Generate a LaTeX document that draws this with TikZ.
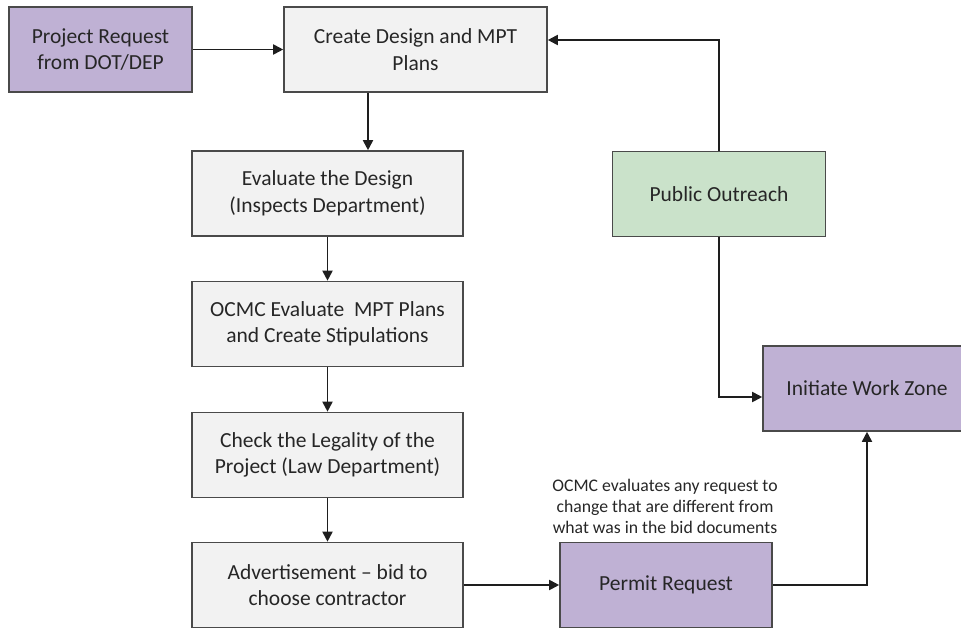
\documentclass[tikz,border=0pt]{standalone}
\usepackage{fontspec}
\setmainfont{Carlito}
\usetikzlibrary{arrows.meta}

\definecolor{boxline}{HTML}{4A4A4A}
\definecolor{greyfill}{HTML}{F2F2F2}
\definecolor{lilac}{HTML}{BFB1D4}
\definecolor{mint}{HTML}{CAE2CA}
\definecolor{ink}{HTML}{262626}
\definecolor{wire}{HTML}{1E1E1E}

\begin{document}
\begin{tikzpicture}[x=1pt,y=-1pt,
  flowbox/.style={draw=boxline, line width=1.6pt, text=ink, align=center,
    font=\fontsize{21.5}{26.5}\selectfont, inner sep=2pt, minimum height=85pt},
  greybox/.style={flowbox, fill=greyfill},
  lilacbox/.style={flowbox, fill=lilac},
  mintbox/.style={flowbox, fill=mint},
  flow/.style={draw=wire, line width=1.8pt, -{Triangle[length=10pt,width=10pt]}},
  remark/.style={text=ink, align=center, font=\fontsize{17.7}{21}\selectfont, inner sep=0pt}
]
\useasboundingbox (0,0) rectangle (961,629);

% process column
\node[lilacbox, minimum width=183pt] (pr) at (100.5,49.5)
  {Project Request\\from DOT/DEP};
\node[greybox, minimum width=263pt] (cd) at (415.5,49.5)
  {Create Design and MPT\\Plans};
\node[greybox, minimum width=271pt] (eval) at (327.5,193.5)
  {Evaluate the Design\\(Inspects Department)};
\node[greybox, minimum width=271pt] (ocmc) at (327.5,324)
  {OCMC Evaluate\ \ MPT Plans\\and Create Stipulations};
\node[greybox, minimum width=271pt] (legal) at (327.5,455)
  {Check the Legality of the\\Project (Law Department)};
\node[greybox, minimum width=271pt] (adv) at (327.5,585)
  {Advertisement -- bid to\\choose contractor};

% permit, outreach and work zone
\node[lilacbox, minimum width=212pt] (permit) at (666,585)
  {Permit Request};
\node[mintbox, minimum width=213pt] (po) at (719,194)
  {Public Outreach};
\node[lilacbox, minimum width=208pt] (iwz) at (867,388.5)
  {Initiate Work Zone};

\node[remark] (note) at (665,506)
  {OCMC evaluates any request to\\change that are different from\\what was in the bid documents};

% connectors
\coordinate (dropx) at (368,0);
\draw[flow] (pr.east) -- (cd.west);
\draw[flow] (dropx |- cd.south) -- (dropx |- eval.north);
\draw[flow] (eval.south) -- (ocmc.north);
\draw[flow] (ocmc.south) -- (legal.north);
\draw[flow] (legal.south) -- (adv.north);
\draw[flow] (adv.east) -- (permit.west);
\draw[flow] (permit.east) -| (iwz.south);
\draw[flow] (po.north) |- ([yshift=9.5pt]cd.east);
\draw[flow] (po.south) |- ([yshift=-8.5pt]iwz.west);
\end{tikzpicture}
\end{document}
